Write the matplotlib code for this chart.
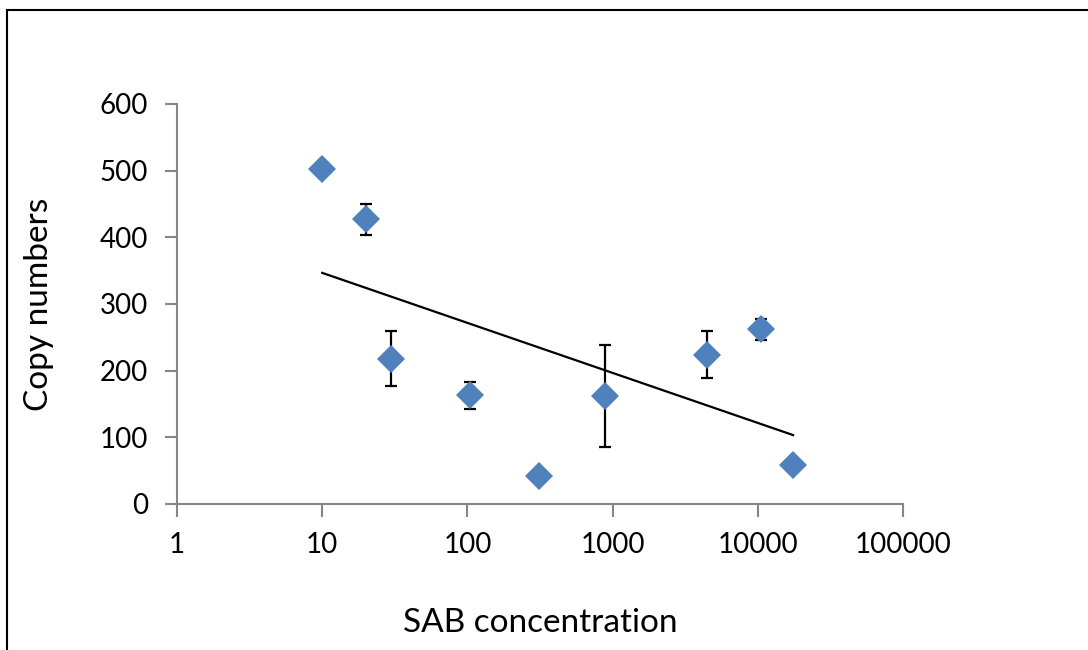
import numpy as np
import matplotlib
matplotlib.use("Agg")
import matplotlib.pyplot as plt
from matplotlib.lines import Line2D
from matplotlib.ticker import FixedLocator, FixedFormatter, NullLocator

# Data
sab_conc = [10, 20, 30, 104, 310, 890, 4500, 10500, 17500]
copy_numbers = [502.5, 427, 218, 163, 41.5, 162, 224, 262, 58.5]
copy_err = [0, 23, 41, 20, 0, 77, 35, 16, 0]

x_ticks = [1, 10, 100, 1000, 10000, 100000]
x_tick_labels = ["1", "10", "100", "1000", "10000", "100000"]
y_ticks = [0, 100, 200, 300, 400, 500, 600]

plt.rcParams['font.family'] = ['Lato', 'DejaVu Sans']

fig = plt.figure(figsize=(10.88, 6.5), dpi=100)
ax = fig.add_axes([177/1088, 1 - 504/650, (903 - 177)/1088, (504 - 104)/650])

blue = '#4F81BD'
gray = '#868686'

x = np.array(sab_conc, dtype=float)
y = np.array(copy_numbers, dtype=float)
e = np.array(copy_err, dtype=float)

# error bars (behind markers)
has_err = e > 0
ax.errorbar(x[has_err], y[has_err], yerr=e[has_err], fmt='none', ecolor='black',
            elinewidth=1.6, capsize=4.2, capthick=1.6, zorder=2)

# logarithmic trendline (linear fit in log10 x)
slope, intercept = np.polyfit(np.log10(x), y, 1)
xt = np.array([x.min(), x.max()])
ax.plot(xt, slope*np.log10(xt) + intercept, color='black', lw=1.6, zorder=3)

# markers
ax.plot(x, y, linestyle='none', marker='D', markersize=14.5, color=blue,
        markeredgewidth=0, zorder=4)

ax.set_xscale('log')
ax.set_xlim(1, 100000)
ax.set_ylim(0, 600)
ax.xaxis.set_major_locator(FixedLocator(x_ticks))
ax.xaxis.set_major_formatter(FixedFormatter(x_tick_labels))
ax.xaxis.set_minor_locator(NullLocator())
ax.set_yticks(y_ticks)
ax.set_yticklabels([str(v) for v in y_ticks])

for side in ['top', 'right']:
    ax.spines[side].set_visible(False)
for side in ['left', 'bottom']:
    ax.spines[side].set_color(gray)
    ax.spines[side].set_linewidth(1.5)

ax.tick_params(axis='both', which='major', direction='out', length=9, width=1.5,
               color=gray, labelsize=20, labelcolor='black')
ax.tick_params(axis='y', pad=12)
ax.tick_params(axis='x', pad=11)

ax.set_xlabel('SAB concentration', fontsize=24, labelpad=36)
ax.set_ylabel('Copy numbers', fontsize=24, labelpad=33)

# outer frame lines (top and left)
fig.add_artist(Line2D([6.5/1088, 1.0], [1 - 10/650, 1 - 10/650], color='black',
                      lw=1.5, transform=fig.transFigure))
fig.add_artist(Line2D([6.5/1088, 6.5/1088], [0, 1 - 10/650], color='black',
                      lw=1.5, transform=fig.transFigure))

fig.savefig('out.png', dpi=100, facecolor='white')
